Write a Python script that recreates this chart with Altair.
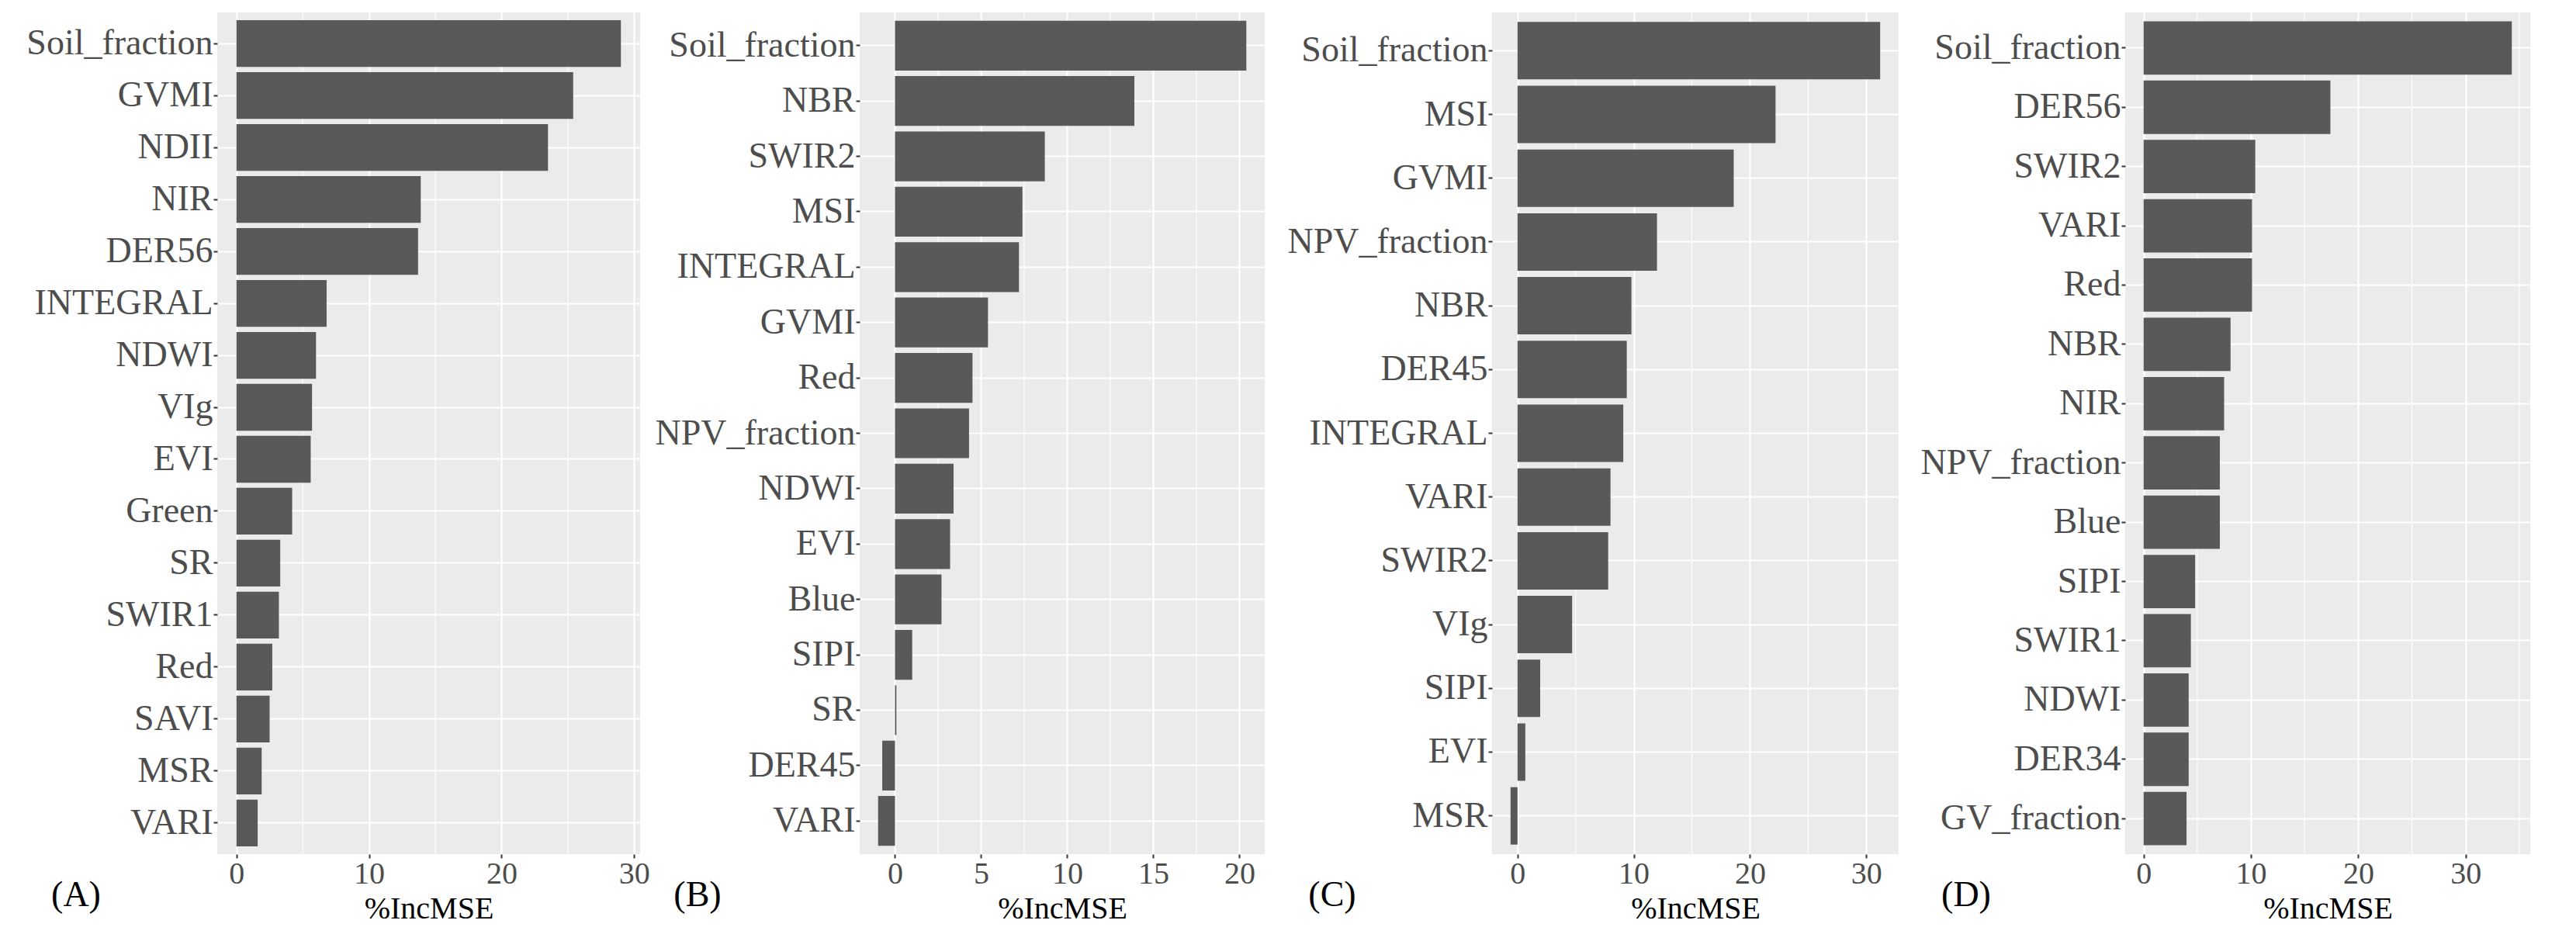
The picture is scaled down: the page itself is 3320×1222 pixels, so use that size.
import altair as alt
import pandas as pd

# ---- data ----
a_names = ["Soil_fraction", "GVMI", "NDII", "NIR", "DER56", "INTEGRAL", "NDWI", "VIg",
           "EVI", "Green", "SR", "SWIR1", "Red", "SAVI", "MSR", "VARI"]
a_vals = [29.0, 25.4, 23.5, 13.9, 13.7, 6.8, 6.0, 5.7, 5.6, 4.2, 3.3, 3.2, 2.7, 2.5, 1.9, 1.6]

b_names = ["Soil_fraction", "NBR", "SWIR2", "MSI", "INTEGRAL", "GVMI", "Red", "NPV_fraction",
           "NDWI", "EVI", "Blue", "SIPI", "SR", "DER45", "VARI"]
b_vals = [20.4, 13.9, 8.7, 7.4, 7.2, 5.4, 4.5, 4.3, 3.4, 3.2, 2.7, 1.0, 0.08, -0.74, -0.98]

c_names = ["Soil_fraction", "MSI", "GVMI", "NPV_fraction", "NBR", "DER45", "INTEGRAL",
           "VARI", "SWIR2", "VIg", "SIPI", "EVI", "MSR"]
c_vals = [31.2, 22.2, 18.6, 12.0, 9.8, 9.4, 9.1, 8.0, 7.8, 4.7, 1.95, 0.67, -0.6]

d_names = ["Soil_fraction", "DER56", "SWIR2", "VARI", "Red", "NBR", "NIR", "NPV_fraction",
           "Blue", "SIPI", "SWIR1", "NDWI", "DER34", "GV_fraction"]
d_vals = [34.3, 17.4, 10.4, 10.1, 10.1, 8.1, 7.5, 7.1, 7.1, 4.8, 4.4, 4.2, 4.2, 4.0]

a_ticks = [0, 10, 20, 30]
b_ticks = [0, 5, 10, 15, 20]
c_ticks = [0, 10, 20, 30]
d_ticks = [0, 10, 20, 30]
a_minor = [5, 15, 25]
b_minor = [2.5, 7.5, 12.5, 17.5]
c_minor = [5, 15, 25]
d_minor = [5, 15, 25, 35]

panel_labels = ["(A)", "(B)", "(C)", "(D)"]
x_title = "%IncMSE"

# ---- styling ----
FONT = "Liberation Serif"
BAR = "#595959"
PANEL_BG = "#EBEBEB"
H = 1085


def panel(names, vals, ticks, minor, label, width, y_extent, label_dx):
    lo = min(0.0, min(vals))
    hi = max(0.0, max(vals))
    pad = 0.05 * (hi - lo)
    xscale = alt.Scale(domain=[lo - pad, hi + pad], nice=False, zero=False)
    xaxis = alt.Axis(
        title=x_title, values=ticks, format="d", labelFont=FONT, labelFontSize=40,
        labelColor="#4D4D4D", labelPadding=0, tickSize=5, tickWidth=2,
        tickColor="#333333", domain=False, grid=True, gridColor="white",
        gridWidth=2.2, titleFont=FONT, titleFontSize=40, titleFontWeight="normal",
        titleColor="black", titlePadding=5, labelFlush=False, labelOverlap=False,
    )
    df = pd.DataFrame({"name": names, "value": vals})
    mdf = pd.DataFrame({"value": minor})

    minor_rules = alt.Chart(mdf).mark_rule(color="white", strokeWidth=1.1).encode(
        x=alt.X("value:Q", scale=xscale, axis=xaxis)
    )
    bars = alt.Chart(df).mark_bar(color=BAR).encode(
        y=alt.Y(
            "name:N", sort=None,
            scale=alt.Scale(paddingInner=0.1, paddingOuter=0.15),
            axis=alt.Axis(
                title=None, labelFont=FONT, labelFontSize=46, labelColor="#4D4D4D",
                labelLimit=500, labelPadding=1, tickSize=5, tickWidth=2,
                tickColor="#333333", domain=False, grid=True, gridColor="white",
                gridWidth=2.2, bandPosition=0.5, minExtent=y_extent, maxExtent=y_extent,
            ),
        ),
        x=alt.X("value:Q", scale=xscale, axis=xaxis),
    )
    txt = alt.Chart(pd.DataFrame({"t": [label]})).mark_text(
        font=FONT, fontSize=46, color="black", align="center", baseline="middle"
    ).encode(text="t:N", x=alt.value(label_dx), y=alt.value(H + 53))
    return alt.layer(minor_rules, bars, txt).properties(width=width, height=H)


pA = panel(a_names, a_vals, a_ticks, a_minor, panel_labels[0], 545, 271.5, -182)
pB = panel(b_names, b_vals, b_ticks, b_minor, panel_labels[1], 522, 270, -209)
pC = panel(c_names, c_vals, c_ticks, c_minor, panel_labels[2], 524, 292.6, -206)
pD = panel(d_names, d_vals, d_ticks, d_minor, panel_labels[3], 522, 291.3, -205)

chart = (
    alt.hconcat(pA, pB, pC, pD, spacing=0)
    .properties(padding={"left": 0, "top": 7, "right": 0, "bottom": 0}, background="white")
    .configure(font=FONT)
    .configure_axis(labelFont=FONT, titleFont=FONT)
    .configure_text(font=FONT)
    .configure_view(fill=PANEL_BG, strokeWidth=0)
)

chart.save("out.html", embed_options={"renderer": "svg", "actions": False})
